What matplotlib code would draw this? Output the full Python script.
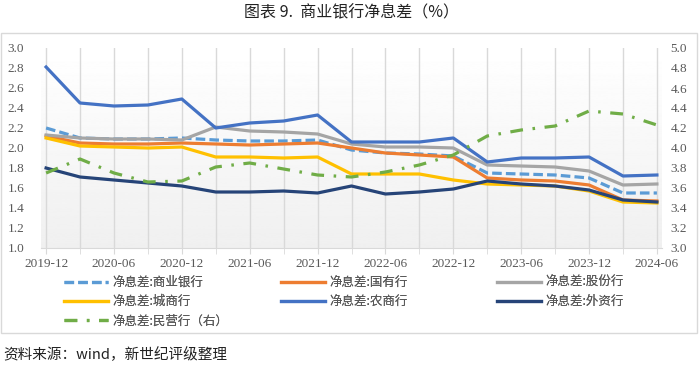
import numpy as np
import matplotlib
matplotlib.use("Agg")
import matplotlib.pyplot as plt
from matplotlib.patches import Rectangle

plt.rcParams['font.family'] = ['Noto Sans CJK SC', 'DejaVu Sans']

# -------- data --------
quarters = ['2019-12', '2020-03', '2020-06', '2020-09', '2020-12', '2021-03', '2021-06',
            '2021-09', '2021-12', '2022-03', '2022-06', '2022-09', '2022-12', '2023-03',
            '2023-06', '2023-09', '2023-12', '2024-03', '2024-06']
nim_all = [2.20, 2.10, 2.09, 2.09, 2.10, 2.08, 2.07, 2.07, 2.08, 1.98, 1.95, 1.94, 1.92,
           1.75, 1.74, 1.73, 1.70, 1.55, 1.55]
nim_state = [2.12, 2.05, 2.04, 2.04, 2.05, 2.04, 2.03, 2.04, 2.05, 2.00, 1.95, 1.93, 1.91,
             1.70, 1.68, 1.67, 1.63, 1.48, 1.47]
nim_joint = [2.13, 2.10, 2.09, 2.09, 2.08, 2.21, 2.17, 2.16, 2.14, 2.04, 2.01, 2.01, 2.00,
             1.83, 1.82, 1.81, 1.77, 1.63, 1.64]
nim_city = [2.10, 2.02, 2.01, 2.00, 2.01, 1.91, 1.91, 1.90, 1.91, 1.74, 1.74, 1.74, 1.68,
            1.64, 1.63, 1.62, 1.57, 1.46, 1.45]
nim_rural = [2.81, 2.45, 2.42, 2.43, 2.49, 2.20, 2.25, 2.27, 2.33, 2.06, 2.06, 2.06, 2.10,
             1.86, 1.90, 1.90, 1.91, 1.72, 1.73]
nim_foreign = [1.80, 1.71, 1.68, 1.65, 1.62, 1.56, 1.56, 1.57, 1.55, 1.62, 1.54, 1.56, 1.59,
               1.67, 1.64, 1.62, 1.58, 1.48, 1.46]
nim_private = [3.75, 3.89, 3.75, 3.66, 3.67, 3.81, 3.85, 3.79, 3.73, 3.71, 3.76, 3.83, 3.93,
               4.12, 4.18, 4.22, 4.37, 4.34, 4.23]

left_ticks = [1.0, 1.2, 1.4, 1.6, 1.8, 2.0, 2.2, 2.4, 2.6, 2.8, 3.0]
right_ticks = [3.0, 3.2, 3.4, 3.6, 3.8, 4.0, 4.2, 4.4, 4.6, 4.8, 5.0]

# -------- figure --------
fig = plt.figure(figsize=(7, 3.7), dpi=100)
fig.patches.append(Rectangle((1 / 700, 37 / 370), 696 / 700, 300 / 370, transform=fig.transFigure,
                             fill=False, edgecolor='#d9d9d9', lw=1))
ax = fig.add_axes([41 / 700, 122 / 370, 621 / 700, 200 / 370])
ax2 = ax.twinx()  # sits above ax, so the right-axis line is drawn on top

x = np.arange(len(quarters))
xl = (-0.15, len(quarters) - 0.85)
ax.set_xlim(*xl)
ax.set_ylim(1.0, 3.0)
ax2.set_ylim(3.0, 5.0)

# gradient background: white top -> light gray bottom
grad = np.linspace(0.94, 1.0, 256).reshape(-1, 1)
ax.imshow(grad, extent=(xl[0], xl[1], 1.0, 3.0), aspect='auto', cmap='gray',
          vmin=0, vmax=1, origin='lower', zorder=0)

for xi in x:
    ax.axvline(xi, color='#d9d9d9', lw=1, zorder=1)

series = [
    ('净息差:商业银行', nim_all, '#5B9BD5', (3, 1.3)),
    ('净息差:国有行', nim_state, '#ED7D31', None),
    ('净息差:股份行', nim_joint, '#A5A5A5', None),
    ('净息差:城商行', nim_city, '#FFC000', None),
    ('净息差:农商行', nim_rural, '#4472C4', None),
    ('净息差:外资行', nim_foreign, '#264478', None),
]
handles = {}
for name, vals, col, dash in series:
    ln, = ax.plot(x, vals, color=col, lw=2.3, zorder=3)
    if dash:
        ln.set_dashes(dash)
    handles[name] = ln

g, = ax2.plot(x, nim_private, color='#70AD47', lw=2.3, dashes=(4, 3, 0.8, 3), zorder=3)
handles['净息差:民营行（右）'] = g

tick_font = dict(family='Liberation Serif', size=9.5, color='#595959')
ax.set_yticks(left_ticks)
ax.set_yticklabels([f'{v:.1f}' for v in left_ticks], **tick_font)
ax2.set_yticks(right_ticks)
ax2.set_yticklabels([f'{v:.1f}' for v in right_ticks], **tick_font)
ax.set_xticks(x[::2])
ax.set_xticklabels(quarters[::2], **tick_font)
ax.set_xticks(x, minor=True)
ax.tick_params(axis='x', which='both', length=4, color='#d9d9d9', pad=3)
ax.tick_params(axis='y', length=0, pad=12)
ax2.tick_params(axis='y', length=0, pad=6)
for a in (ax, ax2):
    for s in a.spines.values():
        s.set_visible(False)
ax.spines['bottom'].set_visible(True)
ax.spines['bottom'].set_color('#d9d9d9')

# legend: three columns placed like the original
cols = [
    (64, ['净息差:商业银行', '净息差:城商行', '净息差:民营行（右）']),
    (281, ['净息差:国有行', '净息差:农商行']),
    (497, ['净息差:股份行', '净息差:外资行']),
]
for xpx, names in cols:
    leg = fig.legend([handles[n] for n in names], names, loc='upper left',
                     bbox_to_anchor=(xpx / 700, 1 - 276 / 370), frameon=False,
                     prop={'size': 9}, labelcolor='#595959', handlelength=3.5,
                     handletextpad=0.35, labelspacing=0.5, borderpad=0, borderaxespad=0)
    fig.add_artist(leg)

fig.text(352 / 700, 1 - 13 / 370, '图表 9.  商业银行净息差（%）', ha='center', va='center',
         fontsize=11.5, color='#222222')
fig.text(3 / 700, 1 - 355 / 370, '资料来源：wind，新世纪评级整理', ha='left', va='center',
         fontsize=10.5, color='#222222')

fig.savefig('out.png', dpi=100)
